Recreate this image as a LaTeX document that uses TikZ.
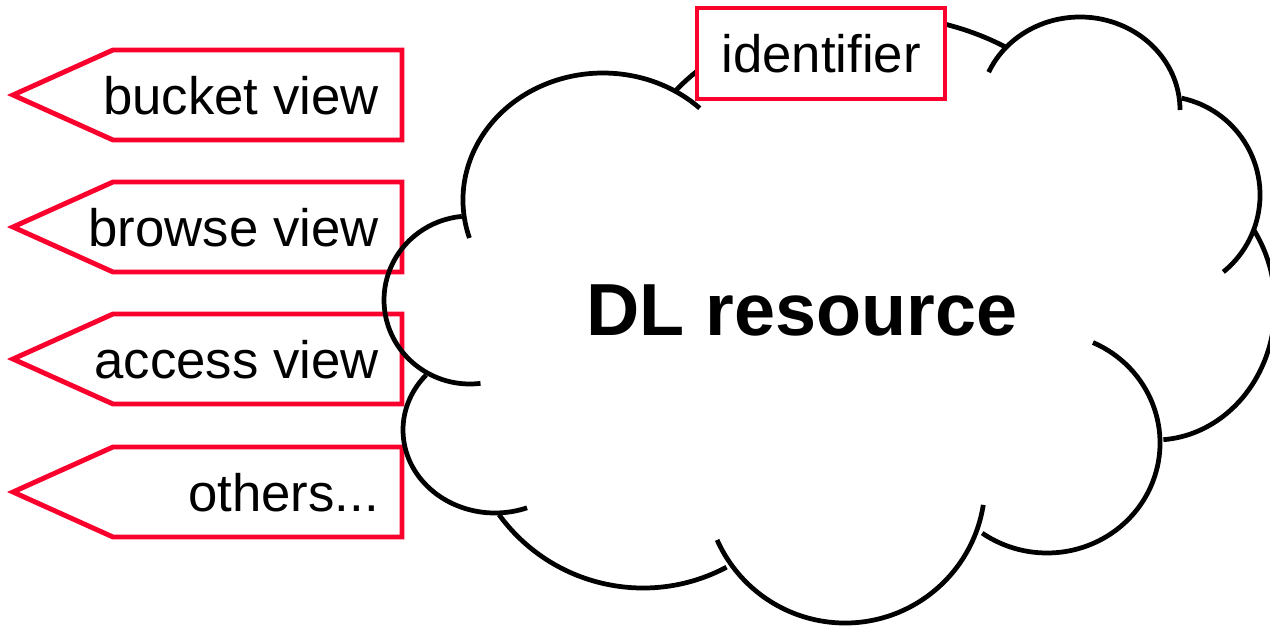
\documentclass[tikz,border=0pt]{standalone}
\usepackage{fontspec}
\setmainfont{Liberation Sans}
\definecolor{tagred}{RGB}{250,0,45}

\begin{document}
\begin{tikzpicture}[x=0.02cm,y=-0.02cm,
  tag/.style={draw=tagred,line width=2.8pt,line join=miter},
  tagtext/.style={font=\fontsize{30}{36}\selectfont,inner sep=0pt,anchor=base east},
  cloudline/.style={draw=black,line width=2.7pt}]

\useasboundingbox (0,0) rectangle (1270,625);
\clip (0,0) rectangle (1270,625);

% Viste

\foreach \y/\name/\txt in {95/bucket/bucket view, 227/browse/browse view, 359/access/access view, 492/others/others{.}{.}{.}}
{
\draw[tag] (402,\y-45) -- (113,\y-45) -- (13,\y) -- (113,\y+45) -- (402,\y+45) -- cycle;
\node[tagtext] (\name) at (379,\y+19.5) {\txt};
}

% Nuvola

\foreach \cx/\cy/\rx/\ry/\a/\b in {603/200/140/127/162.6/313.7, 870/200/241/185/216.5/304.2,
  1080/110/100/93/204/360, 1161/195/99/99/-78/51, 1155/306/120/134/-35/86,
  1047/443/113/110/-66/125, 845/483/140/140/9/156, 643/410/178/178/62/144,
  495/430/92/83/221.5/69.6, 470/300/86/84/83/264.5}
{
\draw[cloudline,shift={(\cx,\cy)}] ({\rx*cos(\a)},{\ry*sin(\a)}) arc[start angle=\a,end angle=\b,x radius=\rx,y radius=\ry];
}

\node[font=\fontsize{42}{50}\selectfont\bfseries,inner sep=0pt] (resource) at (802,310) {DL resource};

\node[draw=tagred,line width=2.8pt,fill=white,minimum width=4.96cm,minimum height=1.82cm,
  font=\fontsize{30}{36}\selectfont] (identifier) at (821,53.5) {identifier};

\end{tikzpicture}
\end{document}
